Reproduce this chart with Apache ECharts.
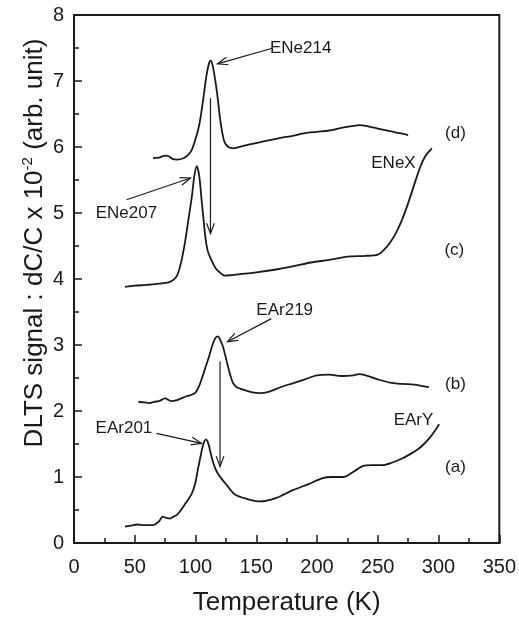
<!DOCTYPE html>
<html>
<head>
<meta charset="utf-8">
<script src="https://cdn.jsdelivr.net/npm/echarts@6/dist/echarts.min.js"></script>
<style>
  html, body { margin: 0; padding: 0; background: #fff; }
  #chart { width: 519px; height: 623px; }
</style>
</head>
<body>
<div id="chart"></div>
<script>
// DLTS spectra: temperature (K) and signal (dC/C x 10^-2, offset per trace)
const tempA = [42, 46, 52, 58, 65, 70, 73, 76, 79, 82, 85, 88, 91, 94, 97, 100, 102, 104, 106, 108.5, 110.5, 112.5, 114.5, 116.5, 118.5, 122, 126, 132, 142, 153, 166, 180, 194, 204, 212, 222, 230, 238, 245, 254, 262, 270, 277, 283, 288, 293, 297, 300.5];
const signalA = [0.25, 0.26, 0.28, 0.27, 0.27, 0.33, 0.40, 0.38, 0.37, 0.40, 0.43, 0.50, 0.58, 0.66, 0.75, 0.92, 1.12, 1.30, 1.47, 1.57, 1.51, 1.36, 1.22, 1.12, 1.05, 0.96, 0.87, 0.74, 0.67, 0.63, 0.68, 0.80, 0.90, 0.98, 1.00, 1.00, 1.08, 1.17, 1.18, 1.18, 1.22, 1.28, 1.35, 1.42, 1.50, 1.60, 1.70, 1.80];

const tempB = [53, 58, 62, 66, 70, 75, 80, 84, 88, 92, 96, 100, 103, 105, 108, 110, 112, 114.5, 116.5, 118.5, 120.5, 122.5, 124.5, 126.5, 129, 131, 134, 138, 145, 153, 160, 170, 180, 190, 200, 210, 220, 230, 235, 240, 250, 260, 270, 280, 292];
const signalB = [2.14, 2.13, 2.12, 2.14, 2.15, 2.19, 2.15, 2.16, 2.19, 2.22, 2.24, 2.28, 2.38, 2.48, 2.65, 2.76, 2.88, 3.03, 3.11, 3.13, 3.07, 2.98, 2.84, 2.69, 2.52, 2.42, 2.36, 2.33, 2.29, 2.27, 2.29, 2.36, 2.42, 2.48, 2.54, 2.55, 2.53, 2.54, 2.56, 2.54, 2.48, 2.43, 2.41, 2.40, 2.36];

const tempC = [42, 50, 60, 70, 78, 82, 85, 88, 91, 94, 97, 99, 101, 103, 105, 106.5, 108, 110, 113, 117, 120, 124, 130, 140, 150, 165, 180, 195, 210, 225, 240, 250, 255, 260, 265, 270, 275, 280, 285, 289, 292, 294.5];
const signalC = [3.88, 3.90, 3.91, 3.93, 3.95, 3.99, 4.06, 4.24, 4.52, 4.88, 5.25, 5.56, 5.71, 5.57, 5.20, 4.92, 4.65, 4.43, 4.29, 4.15, 4.10, 4.05, 4.06, 4.08, 4.10, 4.14, 4.19, 4.25, 4.29, 4.34, 4.35, 4.37, 4.44, 4.55, 4.70, 4.90, 5.15, 5.43, 5.70, 5.86, 5.93, 5.98];

const tempD = [65, 70, 75, 78, 81, 85, 90, 94, 97, 100, 103, 106, 109, 111, 112.5, 114, 116, 118, 120, 122, 124, 127, 131, 140, 150, 160, 170, 180, 190, 200, 210, 220, 230, 235, 240, 250, 260, 268, 275];
const signalD = [5.83, 5.84, 5.87, 5.86, 5.82, 5.81, 5.83, 5.88, 5.96, 6.12, 6.33, 6.68, 7.08, 7.26, 7.31, 7.24, 7.04, 6.78, 6.46, 6.22, 6.07, 6.00, 5.98, 6.02, 6.06, 6.10, 6.14, 6.17, 6.21, 6.23, 6.25, 6.29, 6.32, 6.33, 6.32, 6.28, 6.24, 6.21, 6.18];

// Annotation text: [temperature, signal, text]
const annotationLabels = [
  [186.5, 7.50, 'ENe214'],
  [43.1, 5.00, 'ENe207'],
  [173.4, 3.52, 'EAr219'],
  [41.1, 1.74, 'EAr201'],
  [262.9, 5.75, 'ENeX'],
  [279.4, 1.86, 'EArY']
];
const traceLabels = [
  [313.9, 6.20, '(d)'],
  [313.0, 4.43, '(c)'],
  [313.9, 2.41, '(b)'],
  [313.9, 1.14, '(a)']
];
// Arrows: [fromT, fromSignal, toT, toSignal]
const arrows = [
  [163.8, 7.50, 118.1, 7.26],
  [43.3, 5.20, 95.9, 5.53],
  [162.4, 3.40, 126.3, 3.05],
  [67.9, 1.66, 104.9, 1.51],
  [112.3, 6.74, 112.3, 4.69],
  [120.2, 2.75, 120.2, 1.16]
];
const xTicks = { min: 0, max: 350, interval: 50 };
const yTicks = { min: 0, max: 8, interval: 1 };

const FONT = '"Liberation Sans", Arial, Helvetica, sans-serif';
const INK = '#1a1a1a';

function pairs(xs, ys) { return xs.map((x, i) => [x, ys[i]]); }

function traceSeries(xs, ys) {
  return {
    type: 'line',
    data: pairs(xs, ys),
    showSymbol: false,
    smooth: 0.3,
    lineStyle: { color: INK, width: 1.8 },
    silent: true,
    z: 3
  };
}

function renderArrow(params, api) {
  const p1 = api.coord([api.value(0), api.value(1)]);
  const p2 = api.coord([api.value(2), api.value(3)]);
  const ang = Math.atan2(p2[1] - p1[1], p2[0] - p1[0]);
  const len = 11, spread = 0.36;
  const h1 = [p2[0] - len * Math.cos(ang - spread), p2[1] - len * Math.sin(ang - spread)];
  const h2 = [p2[0] - len * Math.cos(ang + spread), p2[1] - len * Math.sin(ang + spread)];
  const style = { stroke: INK, lineWidth: 1.2, fill: null };
  return {
    type: 'group',
    children: [
      { type: 'line', shape: { x1: p1[0], y1: p1[1], x2: p2[0], y2: p2[1] }, style: style },
      { type: 'polyline', shape: { points: [h1, p2, h2] }, style: style }
    ]
  };
}

function renderText(size) {
  return function (params, api) {
    const p = api.coord([api.value(0), api.value(1)]);
    return {
      type: 'text',
      x: p[0], y: p[1],
      style: {
        text: annotationText[params.seriesName][params.dataIndex],
        fill: INK, fontSize: size, fontFamily: FONT,
        align: 'center', verticalAlign: 'middle'
      }
    };
  };
}
const annotationText = {
  annot: annotationLabels.map(d => d[2]),
  trace: traceLabels.map(d => d[2])
};

const chart = echarts.init(document.getElementById('chart'), null, { renderer: 'canvas' });
chart.setOption({
  animation: false,
  backgroundColor: '#fff',
  grid: { left: 74, right: 18, top: 15, bottom: 80, show: true, borderColor: INK, borderWidth: 2, backgroundColor: 'transparent' },
  xAxis: {
    type: 'value', min: xTicks.min, max: xTicks.max, interval: xTicks.interval,
    name: 'Temperature (K)', nameLocation: 'middle', nameGap: 47,
    nameTextStyle: { fontSize: 26, color: INK, fontFamily: FONT },
    axisLine: { show: true, lineStyle: { color: INK, width: 2 } },
    axisTick: { show: true, inside: true, length: 8, lineStyle: { color: INK, width: 1.5 } },
    minorTick: { show: true, splitNumber: 2, length: 5, lineStyle: { color: INK, width: 1.5 } },
    axisLabel: { fontSize: 20, color: INK, fontFamily: FONT, margin: 14 },
    splitLine: { show: false }
  },
  yAxis: {
    type: 'value', min: yTicks.min, max: yTicks.max, interval: yTicks.interval,
    axisLine: { show: true, lineStyle: { color: INK, width: 2 } },
    axisTick: { show: true, inside: true, length: 8, lineStyle: { color: INK, width: 1.5 } },
    minorTick: { show: true, splitNumber: 2, length: 5, lineStyle: { color: INK, width: 1.5 } },
    axisLabel: { fontSize: 20, color: INK, fontFamily: FONT, margin: 10 },
    splitLine: { show: false }
  },
  graphic: [{
    type: 'text',
    x: 35, y: 243,
    rotation: Math.PI / 2,
    style: {
      text: '{m|DLTS signal : dC/C x 10}{s|-2}{m| (arb. unit)}',
      align: 'center', verticalAlign: 'middle',
      fill: INK,
      rich: {
        m: { fontSize: 26, fontFamily: FONT, fill: INK, lineHeight: 30 },
        s: { fontSize: 15, fontFamily: FONT, fill: INK, padding: [0, 0, 14, 0], lineHeight: 30 }
      }
    }
  }],
  series: [
    traceSeries(tempA, signalA),
    traceSeries(tempB, signalB),
    traceSeries(tempC, signalC),
    traceSeries(tempD, signalD),
    { type: 'custom', name: 'arrows', data: arrows, renderItem: renderArrow, encode: { x: [0, 2], y: [1, 3] }, silent: true, z: 4 },
    { type: 'custom', name: 'annot', data: annotationLabels.map(d => [d[0], d[1]]), renderItem: renderText(17), encode: { x: 0, y: 1 }, silent: true, z: 5 },
    { type: 'custom', name: 'trace', data: traceLabels.map(d => [d[0], d[1]]), renderItem: renderText(17), encode: { x: 0, y: 1 }, silent: true, z: 5 }
  ]
});
</script>
</body>
</html>
